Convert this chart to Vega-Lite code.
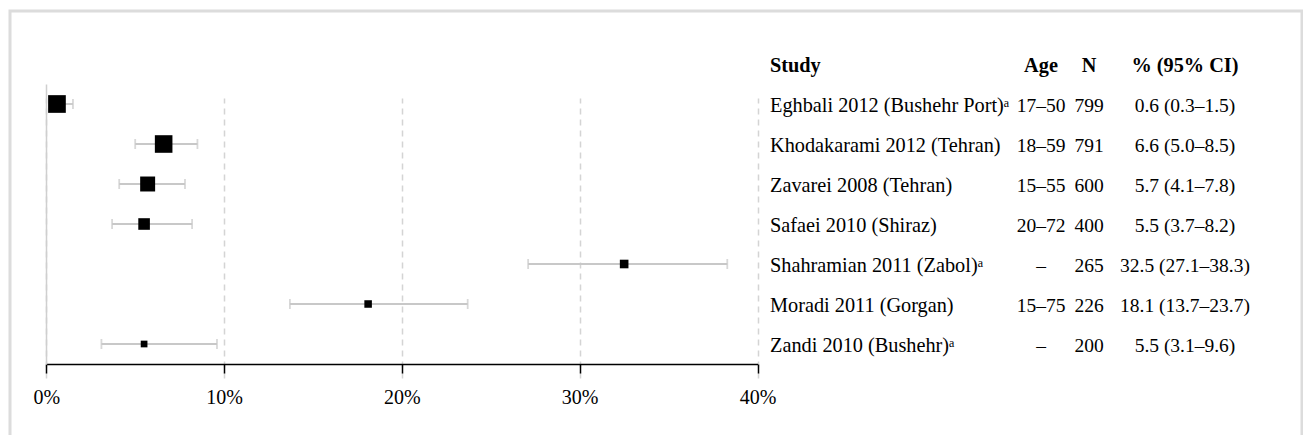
{
  "$schema": "https://vega.github.io/schema/vega-lite/v6.json",
  "autosize": "none",
  "width": 1292,
  "height": 440,
  "padding": {"left": 10, "top": 11, "right": 1, "bottom": 0},
  "background": "white",
  "config": {
    "view": {"stroke": "#dcdcdc", "strokeWidth": 3},
    "font": "Liberation Serif"
  },
  "datasets": {
    "studies": [
      {"row": 1, "study": "Eghbali 2012 (Bushehr Port)ᵃ", "age": "17–50", "n": 799, "est": 0.6, "lo": 0.3, "hi": 1.5, "ci": "0.6 (0.3–1.5)"},
      {"row": 2, "study": "Khodakarami 2012 (Tehran)", "age": "18–59", "n": 791, "est": 6.6, "lo": 5.0, "hi": 8.5, "ci": "6.6 (5.0–8.5)"},
      {"row": 3, "study": "Zavarei 2008 (Tehran)", "age": "15–55", "n": 600, "est": 5.7, "lo": 4.1, "hi": 7.8, "ci": "5.7 (4.1–7.8)"},
      {"row": 4, "study": "Safaei 2010 (Shiraz)", "age": "20–72", "n": 400, "est": 5.5, "lo": 3.7, "hi": 8.2, "ci": "5.5 (3.7–8.2)"},
      {"row": 5, "study": "Shahramian 2011 (Zabol)ᵃ", "age": "–", "n": 265, "est": 32.5, "lo": 27.1, "hi": 38.3, "ci": "32.5 (27.1–38.3)"},
      {"row": 6, "study": "Moradi 2011 (Gorgan)", "age": "15–75", "n": 226, "est": 18.1, "lo": 13.7, "hi": 23.7, "ci": "18.1 (13.7–23.7)"},
      {"row": 7, "study": "Zandi 2010 (Bushehr)ᵃ", "age": "–", "n": 200, "est": 5.5, "lo": 3.1, "hi": 9.6, "ci": "5.5 (3.1–9.6)"}
    ],
    "header": [
      {"row": 0, "study": "Study", "age": "Age", "n": "N", "ci": "% (95% CI)"}
    ]
  },
  "layer": [
    {
      "data": {"name": "studies"},
      "layer": [
        {
          "mark": {"type": "errorbar", "ticks": true, "size": 10, "thickness": 1.8, "color": "#c8c8c8"},
          "encoding": {
            "x": {
              "field": "lo", "type": "quantitative",
              "scale": {"domain": [0, 40], "range": [36.3, 747.5], "nice": false, "zero": false},
              "axis": {
                "orient": "bottom", "offset": -87, "values": [0, 10, 20, 30, 40],
                "labelExpr": "datum.value + '%'", "title": null,
                "domainColor": "black", "domainWidth": 1.5,
                "tickColor": "black", "tickWidth": 1.5, "tickSize": 9,
                "labelFont": "Liberation Serif", "labelFontSize": 20, "labelColor": "black",
                "labelPadding": 14, "labelFlush": false, "labelOverlap": false,
                "grid": true, "gridColor": "#d4d4d4", "gridDash": [6, 5], "gridWidth": 1.5
              }
            },
            "x2": {"field": "hi"},
            "y": {
              "field": "row", "type": "quantitative",
              "scale": {"domain": [0.5, 7.5], "range": [73, 353], "nice": false, "zero": false},
              "axis": {
                "orient": "left", "offset": -36, "domainColor": "#cfcfcf", "domainWidth": 1.5,
                "ticks": false, "labels": false, "grid": false, "title": null
              }
            }
          }
        },
        {
          "mark": {"type": "point", "shape": "square", "filled": true, "color": "black", "opacity": 1},
          "encoding": {
            "x": {"field": "est", "type": "quantitative", "scale": {"domain": [0, 40], "range": [36.3, 747.5], "nice": false, "zero": false}},
            "y": {"field": "row", "type": "quantitative", "scale": {"domain": [0.5, 7.5], "range": [73, 353], "nice": false, "zero": false}},
            "size": {"field": "n", "type": "quantitative", "scale": {"domain": [200, 799], "range": [45, 313], "zero": false}, "legend": null}
          }
        }
      ]
    },
    {
      "encoding": {
        "x": {"field": "col", "type": "nominal", "scale": {"type": "point", "domain": ["study"], "range": [760, 760], "padding": 0}, "axis": null},
        "y": {"field": "row", "type": "quantitative", "scale": {"domain": [0.5, 7.5], "range": [73, 353], "nice": false, "zero": false}},
        "text": {"field": "txt", "type": "nominal"}
      },
      "layer": [
        {
          "data": {"name": "studies"},
          "transform": [{"fold": ["study"], "as": ["col", "txt"]}],
          "mark": {"type": "text", "align": "left", "baseline": "middle", "dy": 2, "font": "Liberation Serif", "fontSize": 20.3, "color": "black"}
        },
        {
          "data": {"name": "header"},
          "transform": [{"fold": ["study"], "as": ["col", "txt"]}],
          "mark": {"type": "text", "align": "left", "baseline": "middle", "dy": 2, "font": "Liberation Serif", "fontSize": 20.3, "fontWeight": "bold", "color": "black"}
        }
      ]
    },
    {
      "encoding": {
        "x": {"field": "col", "type": "nominal", "scale": {"type": "point", "domain": ["age", "n", "gap", "ci"], "range": [1031, 1175], "padding": 0}, "axis": null},
        "y": {"field": "row", "type": "quantitative", "scale": {"domain": [0.5, 7.5], "range": [73, 353], "nice": false, "zero": false}},
        "text": {"field": "txt", "type": "nominal"}
      },
      "layer": [
        {
          "data": {"name": "studies"},
          "transform": [{"fold": ["age", "n", "ci"], "as": ["col", "txt"]}],
          "mark": {"type": "text", "align": "center", "baseline": "middle", "dy": 2, "font": "Liberation Serif", "fontSize": 19.5, "color": "black"}
        },
        {
          "data": {"name": "header"},
          "transform": [{"fold": ["age", "n", "ci"], "as": ["col", "txt"]}],
          "mark": {"type": "text", "align": "center", "baseline": "middle", "dy": 2, "font": "Liberation Serif", "fontSize": 20.3, "fontWeight": "bold", "color": "black"}
        }
      ]
    }
  ],
  "resolve": {"scale": {"x": "independent"}}
}
